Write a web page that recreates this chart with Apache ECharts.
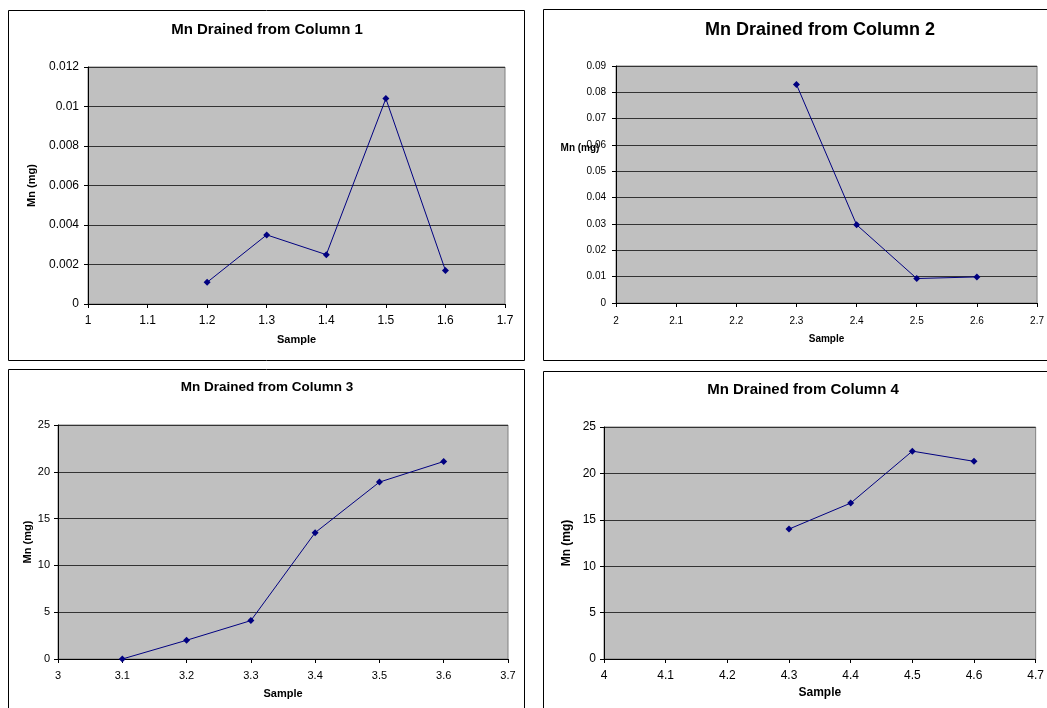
<!DOCTYPE html>
<html>
<head>
<meta charset="utf-8">
<script src="https://cdn.jsdelivr.net/npm/echarts@6/dist/echarts.min.js"></script>
<style>
  html, body { margin: 0; padding: 0; background: #ffffff; }
  #chart { width: 1047px; height: 708px; }
</style>
</head>
<body>
<div id="chart"></div>
<script>
// Sample numbers (x) and Mn drained (mg) for each column
const col1Samples = [1.2, 1.3, 1.4, 1.5, 1.6];
const col1Mn = [0.0011, 0.0035, 0.0025, 0.0104, 0.0017];

const col2Samples = [2.3, 2.4, 2.5, 2.6];
const col2Mn = [0.083, 0.0297, 0.0093, 0.0099];

const col3Samples = [3.1, 3.2, 3.3, 3.4, 3.5, 3.6];
const col3Mn = [0, 2.0, 4.1, 13.5, 18.9, 21.1];

const col4Samples = [4.3, 4.4, 4.5, 4.6];
const col4Mn = [14.0, 16.8, 22.4, 21.3];

const panelTitles = [
  'Mn Drained from Column 1',
  'Mn Drained from Column 2',
  'Mn Drained from Column 3',
  'Mn Drained from Column 4'
];
const xAxisTitle = 'Sample';
const yAxisTitle = 'Mn (mg)';

const FONT = '"Liberation Sans", Arial, sans-serif';
const LINE_COLOR = '#000080';
const GRID_LINE = '#333333';

function pairs(xs, ys) {
  return xs.map((x, i) => [x, ys[i]]);
}

// Per-panel layout and scale settings
const panels = [
  { grid: { left: 88, top: 67, width: 417, height: 237 },
    x: { min: 1, max: 1.7, interval: 0.1 }, y: { min: 0, max: 0.012, interval: 0.002 },
    labelSize: 12, nameSize: 11, titleSize: 15, titleX: 267, titleTop: 22,
    xMargin: 11, yMargin: 9, xNameGap: 30, yNameGap: 51, yNameFlat: false,
    data: pairs(col1Samples, col1Mn) },
  { grid: { left: 616, top: 66, width: 424, height: 237 },
    x: { min: 2, max: 2.7, interval: 0.1 }, y: { min: 0, max: 0.09, interval: 0.01 },
    labelSize: 10, nameSize: 10, titleSize: 18, titleX: 820, titleTop: 21,
    xMargin: 13, yMargin: 10, xNameGap: 31, yNameGap: 15, yNameFlat: true,
    data: pairs(col2Samples, col2Mn) },
  { grid: { left: 58, top: 425, width: 450, height: 234 },
    x: { min: 3, max: 3.7, interval: 0.1 }, y: { min: 0, max: 25, interval: 5 },
    labelSize: 11, nameSize: 11, titleSize: 13.5, titleX: 267, titleTop: 380,
    xMargin: 11, yMargin: 8, xNameGap: 29, yNameGap: 25, yNameFlat: false,
    data: pairs(col3Samples, col3Mn) },
  { grid: { left: 604, top: 427, width: 436, height: 232 },
    x: { min: 4, max: 4.7, interval: 0.1 }, y: { min: 0, max: 25, interval: 5 },
    labelSize: 12, nameSize: 12, titleSize: 15, titleX: 803, titleTop: 382,
    xMargin: 11, yMargin: 8, xNameGap: 28, yNameGap: 31, yNameFlat: false,
    data: pairs(col4Samples, col4Mn) }
];

const option = {
  backgroundColor: '#ffffff',
  animation: false,
  textStyle: { fontFamily: FONT },
  title: panels.map((p, i) => ({
    text: panelTitles[i],
    left: p.titleX,
    top: p.titleTop,
    textAlign: 'center',
    padding: 0,
    textStyle: { fontFamily: FONT, fontWeight: 'bold', fontSize: p.titleSize, color: '#000' }
  })),
  grid: panels.map(p => Object.assign({
    show: true,
    backgroundColor: '#C0C0C0',
    borderColor: '#808080',
    borderWidth: 1
  }, p.grid)),
  xAxis: panels.map((p, i) => ({
    type: 'value',
    gridIndex: i,
    min: p.x.min, max: p.x.max, interval: p.x.interval,
    name: xAxisTitle,
    nameLocation: 'middle',
    nameGap: p.xNameGap,
    nameTextStyle: { fontFamily: FONT, fontWeight: 'bold', fontSize: p.nameSize, color: '#000' },
    axisLine: { show: true, onZero: false, lineStyle: { color: '#000', width: 1 } },
    axisTick: { show: true, inside: false, length: 4, lineStyle: { color: '#000' } },
    axisLabel: { fontFamily: FONT, fontSize: p.labelSize, color: '#000', margin: p.xMargin },
    splitLine: { show: false }
  })),
  yAxis: panels.map((p, i) => ({
    type: 'value',
    gridIndex: i,
    min: p.y.min, max: p.y.max, interval: p.y.interval,
    // the flat (unrotated) title of column 2 is placed as its own text element below
    name: p.yNameFlat ? '' : yAxisTitle,
    nameLocation: 'middle',
    nameGap: p.yNameGap,
    nameRotate: 90,
    nameTextStyle: { fontFamily: FONT, fontWeight: 'bold', fontSize: p.nameSize, color: '#000' },
    axisLine: { show: true, lineStyle: { color: '#000', width: 1 } },
    axisTick: { show: true, inside: false, length: 4, lineStyle: { color: '#000' } },
    axisLabel: { fontFamily: FONT, fontSize: p.labelSize, color: '#000', margin: p.yMargin },
    splitLine: { show: true, lineStyle: { color: GRID_LINE, width: 1 } }
  })),
  series: panels.map((p, i) => ({
    type: 'line',
    xAxisIndex: i,
    yAxisIndex: i,
    data: p.data,
    symbol: 'diamond',
    symbolSize: 7,
    showSymbol: true,
    lineStyle: { color: LINE_COLOR, width: 1 },
    itemStyle: { color: LINE_COLOR, borderWidth: 0 },
    emphasis: { disabled: true }
  })),
  graphic: [
    { type: 'rect', silent: true, shape: { x: 8.5, y: 10.5, width: 516, height: 350 },
      style: { fill: 'none', stroke: '#000', lineWidth: 1 } },
    { type: 'rect', silent: true, shape: { x: 543.5, y: 9.5, width: 520, height: 351 },
      style: { fill: 'none', stroke: '#000', lineWidth: 1 } },
    { type: 'rect', silent: true, shape: { x: 8.5, y: 369.5, width: 516, height: 360 },
      style: { fill: 'none', stroke: '#000', lineWidth: 1 } },
    { type: 'rect', silent: true, shape: { x: 543.5, y: 371.5, width: 520, height: 360 },
      style: { fill: 'none', stroke: '#000', lineWidth: 1 } },
    { type: 'text', silent: true, x: 580, y: 148, z: 10,
      style: { text: yAxisTitle, font: 'bold 10px ' + FONT, fill: '#000',
               align: 'center', verticalAlign: 'middle' } }
  ]
};

const chart = echarts.init(document.getElementById('chart'), null, { renderer: 'canvas' });
chart.setOption(option);
</script>
</body>
</html>
